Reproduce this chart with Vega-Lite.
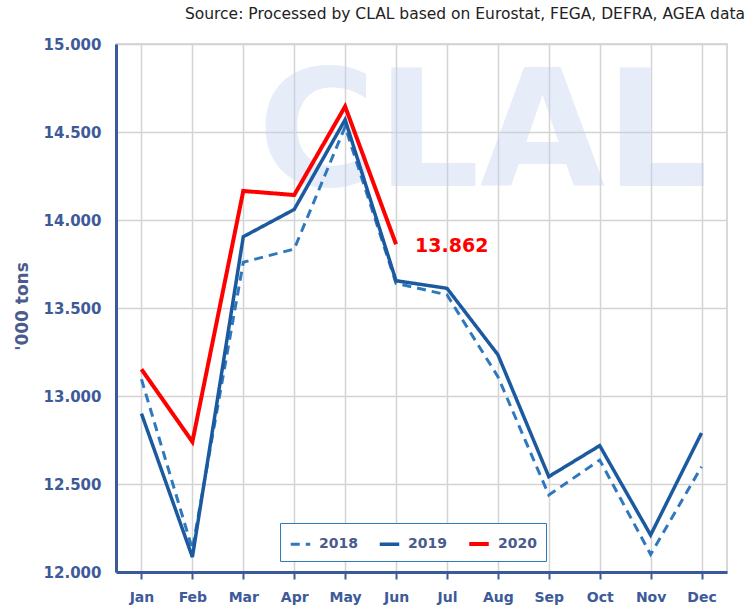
{
  "$schema": "https://vega.github.io/schema/vega-lite/v6.json",
  "autosize": {"type": "none"},
  "width": 611,
  "height": 528,
  "padding": {"left": 116, "top": 44, "right": 18, "bottom": 35},
  "background": "white",
  "title": {
    "text": "Source: Processed by CLAL based on Eurostat, FEGA, DEFRA, AGEA data",
    "anchor": "end",
    "frame": "group",
    "dx": 18,
    "offset": 15,
    "font": "DejaVu Sans",
    "fontSize": 15.5,
    "fontWeight": "normal",
    "color": "#222222"
  },
  "datasets": {
    "milk": [
      {"month": "Jan", "year": "2018", "value": 13095},
      {"month": "Feb", "year": "2018", "value": 12130},
      {"month": "Mar", "year": "2018", "value": 13760},
      {"month": "Apr", "year": "2018", "value": 13835},
      {"month": "May", "year": "2018", "value": 14530},
      {"month": "Jun", "year": "2018", "value": 13640},
      {"month": "Jul", "year": "2018", "value": 13575},
      {"month": "Aug", "year": "2018", "value": 13110},
      {"month": "Sep", "year": "2018", "value": 12437},
      {"month": "Oct", "year": "2018", "value": 12636},
      {"month": "Nov", "year": "2018", "value": 12100},
      {"month": "Dec", "year": "2018", "value": 12598},
      {"month": "Jan", "year": "2019", "value": 12900},
      {"month": "Feb", "year": "2019", "value": 12085},
      {"month": "Mar", "year": "2019", "value": 13905},
      {"month": "Apr", "year": "2019", "value": 14060},
      {"month": "May", "year": "2019", "value": 14570},
      {"month": "Jun", "year": "2019", "value": 13655},
      {"month": "Jul", "year": "2019", "value": 13612},
      {"month": "Aug", "year": "2019", "value": 13235},
      {"month": "Sep", "year": "2019", "value": 12542},
      {"month": "Oct", "year": "2019", "value": 12718},
      {"month": "Nov", "year": "2019", "value": 12210},
      {"month": "Dec", "year": "2019", "value": 12790},
      {"month": "Jan", "year": "2020", "value": 13152},
      {"month": "Feb", "year": "2020", "value": 12740},
      {"month": "Mar", "year": "2020", "value": 14165},
      {"month": "Apr", "year": "2020", "value": 14142},
      {"month": "May", "year": "2020", "value": 14645},
      {"month": "Jun", "year": "2020", "value": 13862}
    ],
    "watermark": [{"month": "Jul", "value": 14470, "text": "CLAL"}],
    "lastLabel": [{"month": "Jun", "value": 13862, "text": "13.862"}]
  },
  "encoding": {
    "x": {
      "field": "month",
      "type": "ordinal",
      "sort": ["Jan","Feb","Mar","Apr","May","Jun","Jul","Aug","Sep","Oct","Nov","Dec"],
      "scale": {"type": "point", "padding": 0.5, "domain": ["Jan","Feb","Mar","Apr","May","Jun","Jul","Aug","Sep","Oct","Nov","Dec"]},
      "axis": {
        "title": null,
        "labelAngle": 0,
        "labelFont": "DejaVu Sans",
        "labelFontWeight": "bold",
        "labelFontSize": 14,
        "labelColor": "#3d5a99",
        "labelPadding": 11,
        "domainColor": "#3a5a9c",
        "domainWidth": 3,
        "tickColor": "#3a5a9c",
        "tickWidth": 2,
        "tickSize": 7,
        "grid": true,
        "gridColor": "#d4d4d4",
        "gridWidth": 1.5
      }
    },
    "y": {
      "field": "value",
      "type": "quantitative",
      "scale": {"domain": [12000, 15000], "nice": false, "zero": false},
      "axis": {
        "title": "'000 tons",
        "titleFont": "DejaVu Sans",
        "titleFontWeight": "bold",
        "titleFontSize": 17,
        "titleColor": "#4b5b8c",
        "titleAngle": -90,
        "titleX": -94,
        "titleY": 262,
        "titleAlign": "center",
        "titleBaseline": "middle",
        "values": [12000, 12500, 13000, 13500, 14000, 14500, 15000],
        "labelExpr": "replace(format(datum.value, ',.0f'), ',', '.')",
        "labelFont": "DejaVu Sans",
        "labelFontWeight": "bold",
        "labelFontSize": 15,
        "labelColor": "#3d5a99",
        "labelPadding": 15,
        "ticks": false,
        "domainColor": "#3a5a9c",
        "domainWidth": 3,
        "grid": true,
        "gridColor": "#d4d4d4",
        "gridWidth": 1.5
      }
    }
  },
  "layer": [
    {
      "data": {"name": "watermark"},
      "mark": {
        "type": "text",
        "font": "DejaVu Sans",
        "fontWeight": "bold",
        "fontSize": 162,
        "color": "#c3d2ee",
        "opacity": 0.4,
        "align": "center",
        "baseline": "middle",
        "dx": 36
      },
      "encoding": {"text": {"field": "text"}}
    },
    {
      "data": {"name": "milk"},
      "mark": {"type": "line", "strokeJoin": "miter", "strokeCap": "butt"},
      "encoding": {
        "color": {
          "field": "year",
          "type": "nominal",
          "scale": {"domain": ["2018","2019","2020"], "range": ["#2f78be","#1c5aa0","#ff0000"]},
          "legend": {
            "title": null,
            "orient": "none",
            "legendX": 164,
            "legendY": 479,
            "direction": "horizontal",
            "strokeColor": "#2f7ab8",
            "fillColor": "white",
            "padding": 9,
            "labelFont": "DejaVu Sans",
            "labelFontWeight": "bold",
            "labelFontSize": 14,
            "labelColor": "#4b5b8c",
            "symbolType": "stroke",
            "symbolSize": 380,
            "columnPadding": 14,
            "labelOffset": 7
          }
        },
        "strokeDash": {
          "field": "year",
          "type": "nominal",
          "scale": {"domain": ["2018","2019","2020"], "range": [[9,6],[1,0],[1,0]]},
          "legend": null
        },
        "strokeWidth": {
          "field": "year",
          "type": "nominal",
          "scale": {"domain": ["2018","2019","2020"], "range": [3,4,6]},
          "legend": null
        }
      }
    },
    {
      "data": {"name": "lastLabel"},
      "mark": {
        "type": "text",
        "font": "DejaVu Sans",
        "fontWeight": "bold",
        "fontSize": 19,
        "color": "#ff0000",
        "align": "left",
        "baseline": "middle",
        "dx": 19,
        "dy": 2
      },
      "encoding": {"text": {"field": "text"}}
    }
  ],
  "config": {
    "view": {"stroke": "#cccccc", "strokeWidth": 1.5}
  }
}
